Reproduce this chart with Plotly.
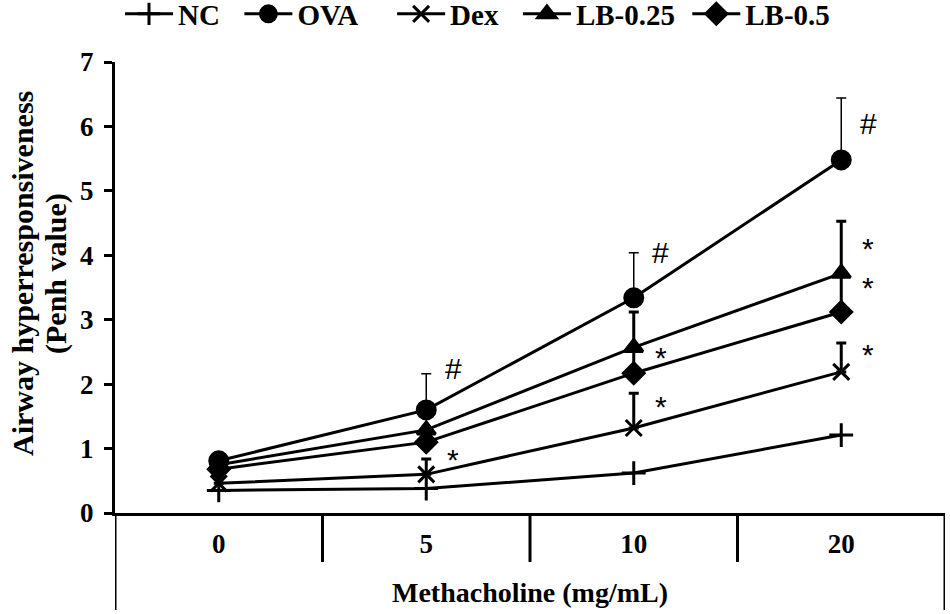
import plotly.graph_objects as go

# methacholine doses (categories on the x axis)
doses = ["0", "5", "10", "20"]

# mean Penh values per group
nc = [0.35, 0.38, 0.62, 1.21]
ova = [0.81, 1.60, 3.34, 5.48]
dex = [0.46, 0.60, 1.32, 2.19]
lb025 = [0.75, 1.29, 2.57, 3.72]
lb05 = [0.68, 1.10, 2.17, 3.12]

# upper error bars (SD), only drawn upward
nc_err = [0.0, 0.0, 0.0, 0.0]
ova_err = [0.0, 0.56, 0.70, 0.96]
dex_err = [0.0, 0.24, 0.54, 0.45]
lb025_err = [0.0, 0.0, 0.55, 0.81]
lb05_err = [0.0, 0.0, 0.40, 0.60]

# significance marks: (dose index, y, text)
marks = [
    (1, 2.25, "#"), (2, 4.05, "#"), (3, 6.05, "#"),
    (1, 0.90, "*"), (2, 2.48, "*"), (2, 1.71, "*"),
    (3, 4.16, "*"), (3, 3.56, "*"), (3, 2.53, "*"),
]

SERIF = "Liberation Serif"
BLK = "black"
NB = "\u00a0"

# plot area in pixels (used to place the split y title)
L, R, T, B = 115, 5, 62, 101
W, H = 950, 614
PW, PH = W - L - R, H - T - B

# legend names padded a little so entries spread like the original
groups = [
    ("NC", NB * 2, nc, nc_err, "cross-thin", 17, 1.5),
    ("OVA", NB * 4, ova, ova_err, "circle", 18, 1.5),
    ("Dex", NB * 2, dex, dex_err, "x-thin", 16, 3),
    ("LB-0.25", NB, lb025, lb025_err, "triangle-up", 16, 3),
    ("LB-0.5", "", lb05, lb05_err, "diamond", 16, 3),
]

fig = go.Figure()
for name, pad, vals, err, sym, size, ew in groups:
    fig.add_trace(go.Scatter(
        x=doses, y=vals, name="<b>" + name + "</b>" + pad,
        mode="lines+markers",
        line=dict(color=BLK, width=3),
        marker=dict(symbol=sym, size=size, color=BLK,
                    line=dict(color=BLK, width=3)),
        error_y=dict(type="data", array=err, symmetric=False,
                     arrayminus=[0] * len(err), color=BLK,
                     thickness=ew, width=5),
    ))

for i, yv, txt in marks:
    fig.add_annotation(
        x=i, y=yv, text=txt, xref="x", yref="y", showarrow=False,
        xshift=27, yshift=-4 if txt == "*" else 0,
        font=dict(family="Liberation Sans", size=30, color=BLK),
    )

# y axis title, two lines set close together
for xpos, line in ((22, "Airway hyperresponsiveness"), (56, "(Penh value)")):
    fig.add_annotation(
        x=(xpos - L) / PW, y=(H - B - 274) / PH, xref="paper", yref="paper",
        text="<b>" + line + "</b>", textangle=-90, showarrow=False,
        xanchor="center", yanchor="middle",
        font=dict(family=SERIF, size=30, color=BLK),
    )

# table-like separators under the x axis
shapes = []
for i in range(len(doses) - 1):
    shapes.append(dict(type="line", xref="x", yref="paper",
                       x0=i + 0.5, x1=i + 0.5, y0=0, y1=-49 / PH,
                       line=dict(color=BLK, width=3)))
for xe in (-0.5, len(doses) - 0.5):
    shapes.append(dict(type="line", xref="x", yref="paper",
                       x0=xe, x1=xe, y0=0, y1=-97 / PH,
                       line=dict(color=BLK, width=3)))

fig.update_layout(
    width=W, height=H,
    margin=dict(l=L, r=R, t=T, b=B),
    paper_bgcolor="white", plot_bgcolor="white",
    font=dict(family=SERIF, color=BLK),
    shapes=shapes,
    legend=dict(orientation="h", x=120 / W, y=1 - 14 / H,
                xref="container", yref="container",
                xanchor="left", yanchor="middle", itemwidth=48,
                font=dict(family=SERIF, size=29),
                bgcolor="rgba(0,0,0,0)"),
    xaxis=dict(
        type="category", range=[-0.5, len(doses) - 0.5], automargin=False,
        showline=True, linecolor=BLK, linewidth=3, showgrid=False,
        zeroline=False, ticks="", ticklabelstandoff=5,
        tickprefix="<b>", ticksuffix="</b>",
        tickfont=dict(family=SERIF, size=27),
        title=dict(text="<b>Methacholine (mg/mL)</b>",
                   font=dict(family=SERIF, size=28), standoff=24),
    ),
    yaxis=dict(
        range=[0, 7], dtick=1, showline=True, linecolor=BLK, linewidth=3,
        automargin=False,
        showgrid=False, zeroline=False, ticks="outside", ticklen=8,
        tickwidth=3, tickcolor=BLK, ticklabelstandoff=5,
        tickprefix="<b>", ticksuffix="</b>",
        tickfont=dict(family=SERIF, size=27),
    ),
)

fig.write_html("out.html", config={"displayModeBar": False},
               post_script="document.body.style.margin='0';")
